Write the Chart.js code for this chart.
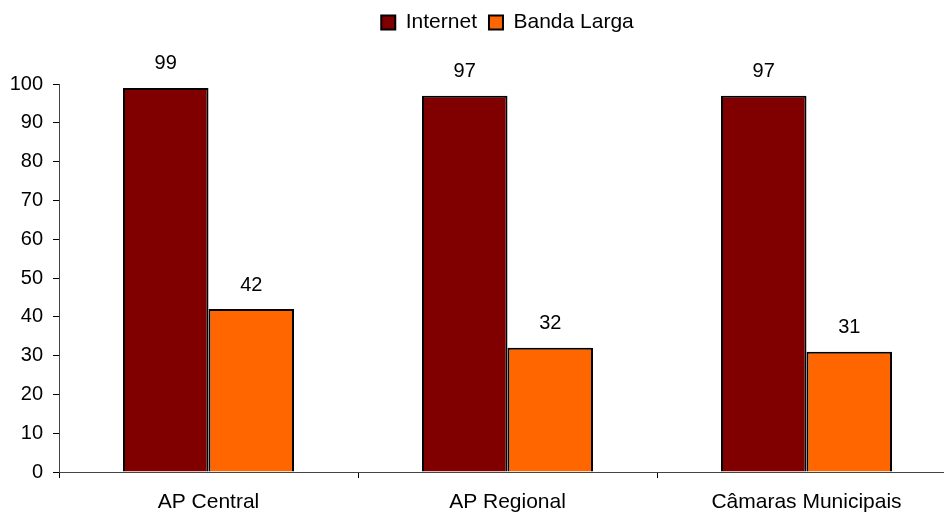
<!DOCTYPE html>
<html>
<head>
<meta charset="utf-8">
<script src="https://cdn.jsdelivr.net/npm/chart.js@4/dist/chart.umd.min.js"></script>
<style>
  html, body { margin: 0; padding: 0; background: #fff; }
  #wrap { width: 944px; height: 512px; overflow: hidden; position: relative; }
  #box { width: 1014px; height: 530px; }
</style>
</head>
<body>
<div id="wrap"><div id="box"><canvas id="chart"></canvas></div></div>
<script>
// data
var categories = ['AP Central', 'AP Regional', 'Câmaras Municipais'];
var internet = [99, 97, 97];
var bandaLarga = [42, 32, 31];
var seriesNames = ['Internet', 'Banda Larga'];

var FONT = 'Liberation Sans, Arial, sans-serif';

// value labels above each bar
var valueLabels = {
    id: 'valueLabels',
    afterDatasetsDraw: function(chart) {
        var ctx = chart.ctx;
        ctx.save();
        ctx.font = '20px ' + FONT;
        ctx.fillStyle = '#000';
        ctx.textAlign = 'center';
        ctx.textBaseline = 'middle';
        chart.data.datasets.forEach(function(ds, i) {
            chart.getDatasetMeta(i).data.forEach(function(bar, j) {
                ctx.fillText(ds.data[j], bar.x, bar.y - 24);
            });
        });
        ctx.restore();
    }
};

// legend takes the whole space above the plot and is centred over the plot area
var legendPlace = {
    id: 'legendPlace',
    beforeInit: function(chart) {
        var fit = chart.legend.fit;
        chart.legend.fit = function() {
            fit.bind(chart.legend)();
            this.height = 84;
        };
    },
    afterLayout: function(chart) {
        var lg = chart.legend;
        lg.left = chart.chartArea.left;
        lg.width = lg.right - lg.left;
    }
};

new Chart(document.getElementById('chart'), {
    type: 'bar',
    data: {
        labels: categories,
        datasets: [{
            label: seriesNames[0],
            data: internet,
            backgroundColor: '#800000',
            borderColor: '#000',
            borderWidth: 2,
            barPercentage: 1,
            categoryPercentage: 0.572
        }, {
            label: seriesNames[1],
            data: bandaLarga,
            backgroundColor: '#FF6600',
            borderColor: '#000',
            borderWidth: 2,
            barPercentage: 1,
            categoryPercentage: 0.572
        }]
    },
    options: {
        responsive: true,
        maintainAspectRatio: false,
        animation: false,
        layout: { padding: { left: 0, right: 58, top: 0, bottom: 0 } },
        plugins: {
            legend: {
                position: 'top',
                labels: {
                    boxWidth: 14,
                    boxHeight: 14,
                    padding: 12,
                    color: '#000',
                    font: { family: FONT, size: 21 }
                }
            },
            tooltip: { enabled: false }
        },
        scales: {
            x: {
                afterFit: function(scale) { scale.height = 530 - 472; },
                grid: { drawOnChartArea: false, tickLength: 6, color: '#000', offset: true },
                border: { color: '#444', width: 1 },
                ticks: { color: '#000', padding: 12, font: { family: FONT, size: 21 } }
            },
            y: {
                min: 0,
                max: 100,
                afterFit: function(scale) { scale.width = 59; },
                grid: { drawOnChartArea: false, tickLength: 6, color: '#000' },
                border: { color: '#444', width: 1 },
                ticks: { stepSize: 10, color: '#000', padding: 10, font: { family: FONT, size: 20 } }
            }
        }
    },
    plugins: [valueLabels, legendPlace]
});
</script>
</body>
</html>
